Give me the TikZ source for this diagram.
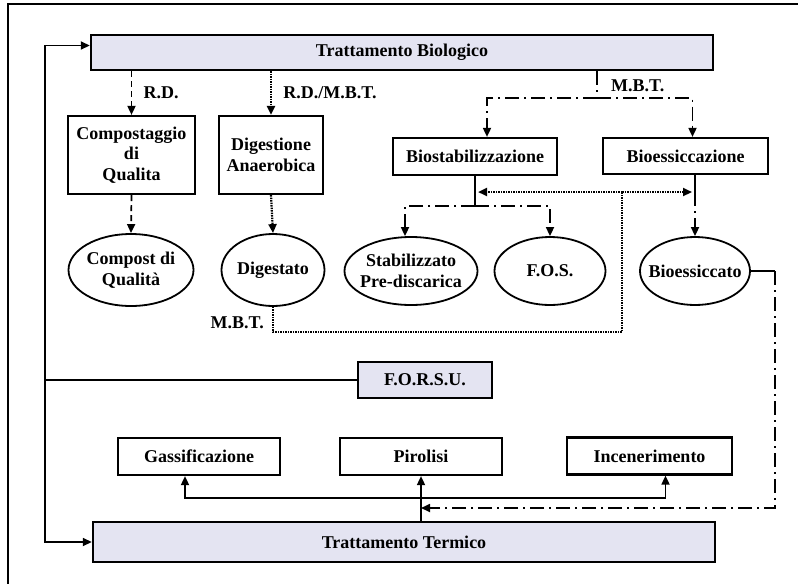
\documentclass[tikz,border=0pt]{standalone}
\usepackage{fontspec}
\setmainfont{Liberation Serif}
\usetikzlibrary{arrows.meta,shapes.geometric}
\definecolor{lav}{RGB}{228,228,242}
\tikzset{
  band/.style={draw, line width=2.4pt, fill=lav, minimum width=622pt, inner sep=0pt},
  box/.style={draw, line width=2.2pt, fill=white, align=center, inner sep=0pt},
  blob/.style={draw, ellipse, line width=1.8pt, align=center, inner xsep=-12pt, inner ysep=-6pt},
  rd/.style={dash pattern=on 6pt off 4pt},
  dotline/.style={line width=2.2pt, dash pattern=on 1.5pt off 1pt},
  mbt/.style={dash pattern=on 14pt off 5pt on 2pt off 5pt}
}

\begin{document}
\begin{tikzpicture}[->, >={Triangle[length=9pt,width=8pt]}, x=1pt, y=-1pt,
    line width=1.7pt, font=\fontsize{18}{20.5}\selectfont\bfseries]
  \useasboundingbox (0,0) rectangle (798,584);
  \draw[-, line width=2.5pt] (798,4) -- (8,4) -- (8,584);

  \node [band, minimum height=35pt] (tb) at (402,52.5) {Trattamento Biologico};
  \node [band, minimum height=40pt] (tt) at (404,542) {Trattamento Termico};
  \node [box, minimum width=127pt, minimum height=78pt] (comp) at (131.5,155) {Compostaggio\\di\\Qualita};
  \node [box, minimum width=104pt, minimum height=78pt] (dig) at (271,155) {Digestione\\Anaerobica};
  \node [box, minimum width=164pt, minimum height=37pt] (bstab) at (475,156.5) {Biostabilizzazione};
  \node [box, minimum width=165pt, minimum height=36pt] (bess) at (685.5,156) {Bioessiccazione};
  \node [blob, minimum width=125pt, minimum height=72pt] (cq) at (131,270) {Compost di\\Qualità};
  \node [blob, minimum width=103pt, minimum height=72pt] (dgt) at (273,270) {Digestato};
  \node [blob, minimum width=133pt, minimum height=68pt] (stab) at (411,271) {Stabilizzato\\Pre-discarica};
  \node [blob, minimum width=111pt, minimum height=68pt] (fos) at (550,271) {F.O.S.};
  \node [blob, minimum width=110pt, minimum height=68pt] (bsc) at (695,271) {Bioessiccato};
  \node [box, fill=lav, minimum width=134pt, minimum height=36pt] (forsu) at (425,380) {F.O.R.S.U.};
  \node [box, minimum width=162pt, minimum height=37pt] (gas) at (199,456.5) {Gassificazione};
  \node [box, minimum width=162pt, minimum height=37pt] (pir) at (421,456.5) {Pirolisi};
  \node [box, minimum width=165pt, minimum height=37pt] (inc) at (649.5,456) {Incenerimento};

  \coordinate (split) at (597,98);
  \coordinate (j1) at (bstab.south |- 0,192);
  \coordinate (j2) at (bstab.south |- 0,206);
  \coordinate (j3) at (622,192);
  \coordinate (j4) at (bsc.north |- j3);
  \coordinate (j5) at (j3 |- 0,332);
  \coordinate (k1) at (775,271);
  \coordinate (k2) at (775,508);
  \coordinate (k3) at (pir.south |- k2);
  \coordinate (hub) at (pir.south |- 0,498);
  \coordinate (c1) at (45,380);

  % biologico
  \path
  (comp.north |- tb.south) edge [rd] node [right=8pt, pos=.5] {R.D.} (comp.north)
  (comp.south) edge [rd] (cq.north)
  (dig.north |- tb.south) edge [dotline] node [right=8pt, pos=.5] {R.D./M.B.T.} (dig.north)
  (dig.south) edge [dotline] (dgt.north)
  ;
  \draw [mbt, -] (tb.south -| split) -- (split) node [pos=.55, right=10pt] (lbl1) {M.B.T.};
  \draw [mbt] (split) -| ([xshift=12pt]bstab.north);
  \draw [mbt] (split) -| ([xshift=7pt]bess.north);
  \draw [-] (bstab.south) -- (j1);
  \draw [mbt, -] (j1) -- (j2);
  \draw [mbt] (j2) -| ([xshift=-6pt]stab.north);
  \draw [mbt] (j2) -| (fos.north);
  \draw [-] (bess.south -| j4) -- (j4);
  \draw [mbt] (j4) -- (bsc.north);
  \draw [dotline, -] (dgt.south) |- (j5) -- (j3);
  \draw [dotline] (j3) -- ([xshift=3pt]j1);
  \draw [dotline] (j3) -- ([xshift=-3pt]j4);
  \node [anchor=east] (lbl2) at (268,323) {M.B.T.};

  % termico
  \draw [-] (bsc.east) -- (k1);
  \draw [mbt] (k1) -- (k2) -- (k3);
  \draw (tt.north -| pir.south) -- (pir.south);
  \draw (hub) -| ([xshift=-14pt]gas.south);
  \draw (hub) -| ([xshift=16pt]inc.south);

  % F.O.R.S.U.
  \draw [-] (forsu.west) -- (c1);
  \draw (c1) |- ([yshift=7pt]tb.west);
  \draw (c1) |- (tt.west);
\end{tikzpicture}
\end{document}
